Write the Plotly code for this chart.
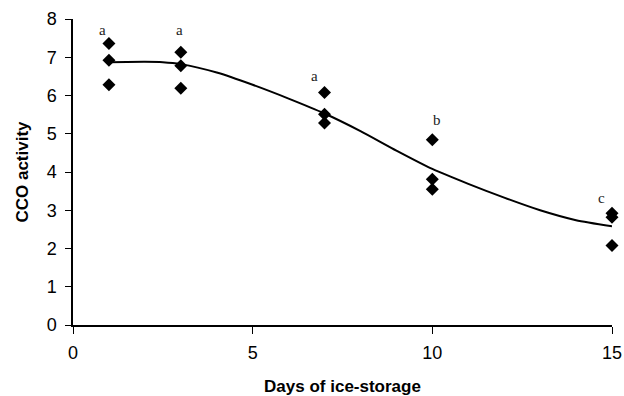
import plotly.graph_objects as go

# Observed data
days = [1, 1, 1, 3, 3, 3, 7, 7, 7, 10, 10, 10, 15, 15, 15]
activity = [7.36, 6.92, 6.28, 7.13, 6.78, 6.19, 6.08, 5.51, 5.28, 4.84, 3.81, 3.55, 2.92, 2.82, 2.08]

# Fitted curve
fit_days = [1, 2, 2.5, 3, 4, 5, 6, 7, 8, 9, 10, 11, 12, 13, 14, 15]
fit_activity = [6.87, 6.88, 6.87, 6.82, 6.6, 6.28, 5.92, 5.53, 5.07, 4.56, 4.08, 3.69, 3.33, 3.0, 2.74, 2.58]

# Significance letters
letters = ["a", "a", "a", "b", "c"]
letter_x = [0.83, 2.97, 6.73, 10.12, 14.72]
letter_y = [7.71, 7.71, 6.5, 5.36, 3.32]

fig = go.Figure()
fig.add_trace(go.Scatter(x=fit_days, y=fit_activity, mode="lines",
                         line=dict(color="black", width=2, shape="spline", smoothing=0.6),
                         hoverinfo="skip", showlegend=False, cliponaxis=False))
fig.add_trace(go.Scatter(x=days, y=activity, mode="markers",
                         marker=dict(symbol="diamond", size=10, color="black"),
                         showlegend=False, cliponaxis=False))

for t, x, y in zip(letters, letter_x, letter_y):
    fig.add_annotation(x=x, y=y, text=t, showarrow=False,
                       font=dict(family="Liberation Serif, Times New Roman, serif", size=15, color="#222"))

fig.update_layout(
    width=624, height=396,
    margin=dict(l=73, r=12, t=19, b=71, autoexpand=False),
    paper_bgcolor="white", plot_bgcolor="white",
    font=dict(family="Liberation Sans, Arial, sans-serif", color="black"),
)
fig.update_xaxes(range=[0, 15], tickvals=[0, 5, 10, 15], showgrid=False, zeroline=False,
                 showline=True, linecolor="black", linewidth=1.5, ticks="outside", ticklen=7,
                 tickcolor="black", tickfont=dict(size=18), ticklabelstandoff=4, automargin=False,
                 title=dict(text="<b>Days of ice-storage</b>", font=dict(size=17), standoff=20))
fig.update_yaxes(range=[0, 8], tickvals=list(range(0, 9)), showgrid=False, zeroline=False,
                 showline=True, linecolor="black", linewidth=1.5, ticks="outside", ticklen=6,
                 tickcolor="black", tickfont=dict(size=18), ticklabelstandoff=5, automargin=False,
                 title=dict(text="<b>CCO activity</b>", font=dict(size=17), standoff=14))

fig.write_html("out.html", config={"displayModeBar": False},
               post_script="document.body.style.margin='0';document.body.style.overflow='hidden';")
